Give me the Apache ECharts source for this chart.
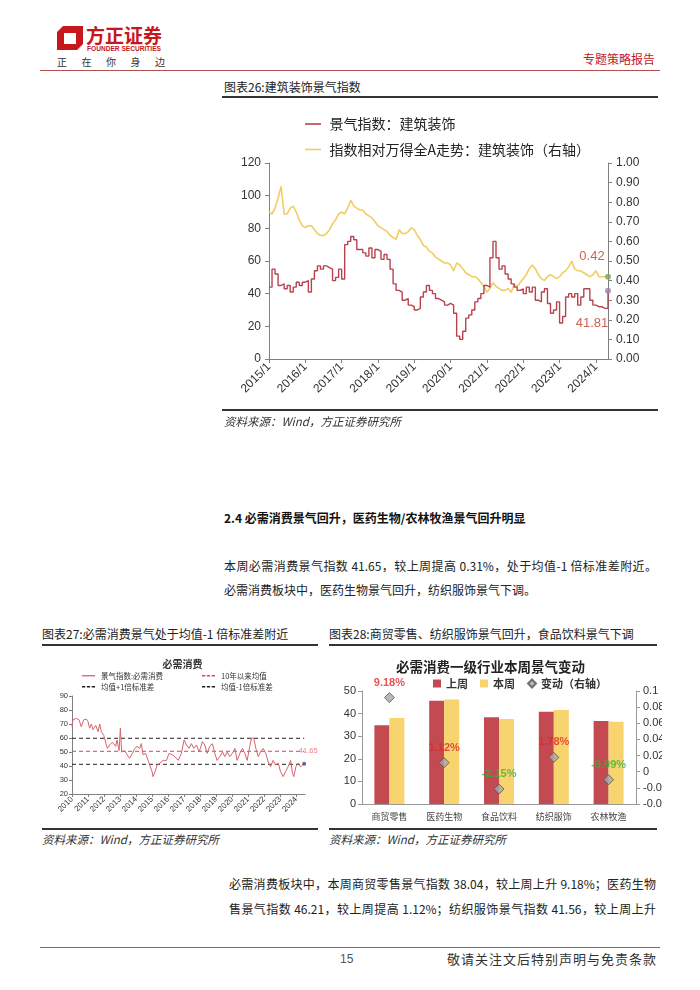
<!DOCTYPE html>
<html><head><meta charset="utf-8">
<script src="https://cdn.jsdelivr.net/npm/echarts/dist/echarts.min.js"></script>
<style>
html,body{margin:0;padding:0}
body{width:700px;height:990px;position:relative;background:#fff;overflow:hidden;font-family:"Noto Sans CJK SC","Liberation Sans",sans-serif;color:#222}
.t{position:absolute;white-space:nowrap;line-height:1}
.j{text-align:justify;text-align-last:justify}
.hl{position:absolute;background:#333}
.src{font-style:italic;font-size:11.5px;color:#333}
.cap{font-size:12px;color:#222}
</style></head><body>

<!-- header -->
<svg class="t" style="left:56px;top:24px" width="28" height="27" viewBox="0 0 28 27">
  <path d="M7 2 L27 2 L27 20 L21 26 L1 26 L1 8 Z M8 9 L8 20 L20 20 L20 9 Z" fill="#c8161d" fill-rule="evenodd"/>
</svg>
<div class="t" style="left:86px;top:25px;font-size:19px;font-weight:bold;color:#c8161d">方正证券</div>
<div class="t" style="left:87px;top:46px;font-size:6.6px;font-weight:bold;color:#c8161d;font-family:'Liberation Sans',sans-serif">FOUNDER SECURITIES</div>
<div class="t" style="left:57px;top:57px;font-size:10px;color:#333;letter-spacing:14.5px">正在你身边</div>
<div class="t" style="left:583px;top:53px;font-size:12px;color:#c8161d">专题策略报告</div>
<div class="hl" style="left:40px;top:70px;width:620px;height:1.2px;background:#b0504f"></div>

<!-- chart 26 -->
<div class="t cap" style="left:224px;top:81px">图表26:建筑装饰景气指数</div>
<div class="hl" style="left:222px;top:96px;width:436px;height:1.6px"></div>
<div id="c26" style="position:absolute;left:220px;top:100px;width:440px;height:310px"></div>
<div class="hl" style="left:222px;top:409px;width:436px;height:1.6px"></div>
<div class="t src" style="left:224px;top:416px">资料来源：Wind，方正证券研究所</div>

<!-- text -->
<div class="t" style="left:224px;top:512px;font-size:12px;font-weight:bold;color:#111">2.4 必需消费景气回升，医药生物/农林牧渔景气回升明显</div>
<div class="t j" style="left:224px;top:560px;width:433px;font-size:12px;color:#222">本周必需消费景气指数 41.65，较上周提高 0.31%，处于均值-1 倍标准差附近。</div>
<div class="t" style="left:224px;top:584px;font-size:12px;color:#222">必需消费板块中，医药生物景气回升，纺织服饰景气下调。</div>

<!-- chart 27 -->
<div class="t cap" style="left:42px;top:628px">图表27:必需消费景气处于均值-1 倍标准差附近</div>
<div class="hl" style="left:42px;top:644px;width:276px;height:1.6px"></div>
<div id="c27" style="position:absolute;left:40px;top:648px;width:285px;height:180px"></div>
<div class="hl" style="left:42px;top:828px;width:276px;height:1.6px"></div>
<div class="t src" style="left:42px;top:834px">资料来源：Wind，方正证券研究所</div>

<!-- chart 28 -->
<div class="t cap" style="left:329px;top:628px">图表28:商贸零售、纺织服饰景气回升，食品饮料景气下调</div>
<div class="hl" style="left:329px;top:644px;width:328px;height:1.6px"></div>
<div id="c28" style="position:absolute;left:325px;top:648px;width:337px;height:180px"></div>
<div class="hl" style="left:329px;top:828px;width:328px;height:1.6px"></div>
<div class="t src" style="left:329px;top:834px">资料来源：Wind，方正证券研究所</div>

<!-- bottom text -->
<div class="t j" style="left:229px;top:878px;width:427px;font-size:12px;color:#222">必需消费板块中，本周商贸零售景气指数 38.04，较上周上升 9.18%；医药生物</div>
<div class="t j" style="left:229px;top:903px;width:427px;font-size:12px;color:#222">售景气指数 46.21，较上周提高 1.12%；纺织服饰景气指数 41.56，较上周上升</div>

<!-- footer -->
<div class="hl" style="left:40px;top:947px;width:620px;height:1.2px;background:#b0504f"></div>
<div class="t" style="left:340px;top:953px;font-size:12px;color:#555;font-family:'Liberation Sans',sans-serif">15</div>
<div class="t" style="left:447px;top:952px;font-size:13px;color:#333;letter-spacing:1px">敬请关注文后特别声明与免责条款</div>

<script>
// ---------- Chart 26 data (monthly, 2015/1 - 2024/5) ----------
const c26Index = [
  44,55,52,45,46,43,45,41,44,47,45,47,
  48,41,49,54,57,55,57,56,55,48,50,55,
  49,70,72,75,73,67,67,65,63,68,62,67,
  66,61,64,61,55,46,42,41,36,37,33,32,
  30,31,38,41,45,42,40,37,36,35,33,34,
  33,28,14,12,17,25,27,30,35,37,40,45,
  44,62,72,62,55,57,52,49,46,44,42,43,
  40,44,41,44,36,35,41,43,34,28,30,35,
  22,26,38,40,38,40,33,38,43,43,36,33,
  32,32,31,31,41.81
];
const c26Rel = [
  0.75,0.74,0.77,0.82,0.88,0.74,0.74,0.77,0.78,0.75,0.71,0.68,
  0.67,0.68,0.68,0.66,0.64,0.63,0.63,0.64,0.66,0.69,0.71,0.74,
  0.75,0.74,0.77,0.81,0.78,0.77,0.76,0.76,0.74,0.73,0.72,0.70,
  0.68,0.67,0.66,0.65,0.63,0.62,0.61,0.66,0.64,0.64,0.65,0.67,
  0.66,0.63,0.61,0.58,0.57,0.55,0.54,0.52,0.51,0.50,0.49,0.49,
  0.48,0.45,0.49,0.48,0.46,0.44,0.43,0.42,0.42,0.41,0.39,0.37,
  0.34,0.36,0.39,0.37,0.36,0.35,0.35,0.36,0.34,0.38,0.37,0.39,
  0.41,0.43,0.46,0.48,0.46,0.43,0.41,0.40,0.42,0.43,0.42,0.41,
  0.42,0.44,0.45,0.47,0.50,0.46,0.45,0.45,0.44,0.43,0.42,0.43,
  0.45,0.42,0.42,0.42,0.42
];
const c26Months = [];
for (let y = 2015; y <= 2024; y++) for (let m = 1; m <= 12; m++) if (c26Months.length < c26Index.length) c26Months.push(y + '/' + m);
const c26Names = ['景气指数：建筑装饰', '指数相对万得全A走势：建筑装饰（右轴）'];

// ---------- Chart 27 data ----------
const c27T = [2010.00,2010.06,2010.27,2010.44,2010.58,2010.73,2010.90,2011.00,2011.10,2011.21,2011.31,2011.48,2011.63,2011.73,2011.83,2011.98,
  2012.10,2012.21,2012.35,2012.52,2012.73,2012.81,2012.94,2013.02,2013.10,2013.29,2013.44,2013.60,2013.77,2013.92,
  2014.06,2014.23,2014.33,2014.44,2014.60,2014.75,2014.85,2015.00,2015.06,2015.19,2015.31,2015.48,2015.69,2015.90,
  2016.06,2016.27,2016.42,2016.63,2016.83,2017.00,2017.15,2017.31,2017.46,2017.60,2017.77,2017.94,
  2018.15,2018.29,2018.44,2018.60,2018.77,2018.92,2019.06,2019.23,2019.40,2019.54,2019.69,2019.85,
  2020.02,2020.17,2020.31,2020.48,2020.65,2020.79,2020.94,2021.10,2021.21,2021.35,2021.48,2021.63,2021.77,2021.94,
  2022.10,2022.25,2022.40,2022.56,2022.71,2022.88,2023.02,2023.19,2023.33,2023.50,2023.65,2023.77,2023.85,2023.98,
  2024.13,2024.27,2024.40,2024.50];
const c27V = [68,73,74,73,68,73,73.5,71.7,67,70,66,69,64.5,70,64.5,62,
  57,52.6,55,57,54,58.6,51,67,50,51,48,45.5,49,52.6,
  54,52.6,56,48,49,44,40.7,36,32.4,36,40.7,42,44,44,
  49,48,46.7,44,49,58.6,55,52.6,56,52.6,55,50,
  57.4,55,49,54,56,49,44,46.7,50,46.7,50,46.7,
  49,52.6,44,49,52.6,49,44,54,60,60,52.6,46.7,50,52.6,
  49,43,39.5,44,40.7,42,36,32.4,36,39.5,44,34.8,32.4,39.5,
  42,39.5,40.7,41.65];
const c27Mean = 50.5, c27Up = 59.8, c27Dn = 41.2;
const c27Years = [2010,2024.55];
const c27Names = ['景气指数:必需消费', '10年以来均值', '均值+1倍标准差', '均值-1倍标准差'];

// ---------- Chart 28 data ----------
const c28Cats = ['商贸零售','医药生物','食品饮料','纺织服饰','农林牧渔'];
const c28Prev = [34.84, 45.70, 38.43, 40.83, 36.76];
const c28Curr = [38.04, 46.21, 37.60, 41.56, 36.40];
const c28Chg  = [0.0918, 0.0112, -0.0215, 0.0178, -0.0099];
const c28Names = ['上周', '本周', '变动（右轴）'];

const RED26 = '#b8434f', YEL26 = '#f2cd62';
const SOLID_ICON = 'path://M0,0h20v2h-20z';
const DASH_ICON = 'path://M0,0h5v2h-5z M7.5,0h5v2h-5z M15,0h5v2h-5z';
const axisBase = {
  axisLine: { show: true, lineStyle: { color: '#808080', width: 1 } },
  axisTick: { show: true, lineStyle: { color: '#808080' }, length: 4 },
  splitLine: { show: false }
};

// ================= Chart 26 =================
const ch26 = echarts.init(document.getElementById('c26'), null, { renderer: 'canvas' });
const last26 = c26Index.length - 1;
ch26.setOption({
  animation: false,
  textStyle: { fontFamily: 'Liberation Sans, Noto Sans CJK SC, sans-serif' },
  legend: {
    orient: 'vertical', left: 80, top: 12, itemWidth: 23, itemHeight: 1.6, itemGap: 11.5,
    data: c26Names.map((n) => ({ name: n, icon: SOLID_ICON })),
    textStyle: { fontSize: 14, color: '#222', fontFamily: 'Noto Sans CJK SC' }
  },
  grid: { left: 49, right: 52, top: 63, bottom: 51, containLabel: false, outerBoundsMode: 'none' },
  xAxis: {
    type: 'category', data: c26Months, boundaryGap: false,
    ...axisBase,
    axisTick: { show: true, lineStyle: { color: '#808080' }, length: 4, interval: (i) => i % 12 === 0 },
    axisLabel: { interval: (i) => i % 12 === 0, rotate: 45, fontSize: 12, color: '#333', margin: 6 }
  },
  yAxis: [
    { type: 'value', min: 0, max: 120, interval: 20, ...axisBase,
      axisLabel: { fontSize: 12, color: '#333', margin: 8 } },
    { type: 'value', min: 0, max: 1, interval: 0.1, ...axisBase,
      axisLabel: { fontSize: 12, color: '#333', margin: 8, formatter: (v) => v.toFixed(2) } }
  ],
  series: [
    { name: c26Names[0], type: 'line', yAxisIndex: 0, step: 'end', symbol: 'none',
      lineStyle: { color: RED26, width: 1.4 }, itemStyle: { color: RED26 }, data: c26Index, z: 3 },
    { name: c26Names[1], type: 'line', yAxisIndex: 1, symbol: 'none',
      lineStyle: { color: YEL26, width: 1.6 }, itemStyle: { color: YEL26 }, data: c26Rel, z: 2 },
    { name: 'end1', type: 'scatter', yAxisIndex: 0, symbolSize: 6, z: 5,
      itemStyle: { color: '#9a7fb8' },
      label: { show: true, position: 'bottom', offset: [-16, 18], fontSize: 13, color: '#c0392b',
        formatter: (p) => p.value[1].toFixed(2) },
      data: [[c26Months[last26], c26Index[last26]]] },
    { name: 'end2', type: 'scatter', yAxisIndex: 1, symbolSize: 6, z: 5,
      itemStyle: { color: '#7aa85a' },
      label: { show: true, position: 'top', offset: [-16, -6], fontSize: 13, color: '#c0392b',
        formatter: (p) => p.value[1].toFixed(2) },
      data: [[c26Months[last26], c26Rel[last26]]] }
  ]
});

// ================= Chart 27 =================
const ch27 = echarts.init(document.getElementById('c27'));
const c27Main = c27T.map((t, i) => [t, c27V[i]]);
const lg27 = (name, icon, left, top) => ({
  data: [{ name, icon }], left, top, itemWidth: 15, itemHeight: 1.3, padding: 0,
  textStyle: { fontSize: 7.5, color: '#333', fontFamily: 'Noto Sans CJK SC' }
});
const lastT = c27T[c27T.length - 1], lastV = c27V[c27V.length - 1];
ch27.setOption({
  animation: false,
  textStyle: { fontFamily: 'Liberation Sans, Noto Sans CJK SC, sans-serif' },
  title: { text: '必需消费', left: 'center', top: 6,
    textStyle: { fontSize: 10, fontWeight: 'bold', color: '#333', fontFamily: 'Noto Sans CJK SC' } },
  legend: [
    lg27(c27Names[0], SOLID_ICON, 42, 24), lg27(c27Names[1], DASH_ICON, 162, 24),
    lg27(c27Names[2], DASH_ICON, 42, 35), lg27(c27Names[3], DASH_ICON, 162, 35)
  ],
  grid: { left: 32, right: 20, top: 48, bottom: 34, outerBoundsMode: 'none' },
  xAxis: {
    type: 'value', min: c27Years[0], max: c27Years[1], interval: 1, ...axisBase,
    axisTick: { show: true, length: 3, lineStyle: { color: '#808080' } },
    axisLabel: { rotate: 45, fontSize: 8, color: '#333', margin: 4, showMaxLabel: false,
      formatter: (v) => Number.isInteger(v) ? String(v) : '' }
  },
  yAxis: {
    type: 'value', min: 20, max: 90, interval: 10, ...axisBase,
    axisTick: { show: true, length: 3, lineStyle: { color: '#808080' } },
    axisLabel: { fontSize: 7.5, color: '#333', margin: 4 }
  },
  series: [
    { name: c27Names[0], type: 'line', symbol: 'none', data: c27Main, z: 3,
      lineStyle: { color: '#d4636b', width: 1 }, itemStyle: { color: '#d4636b' } },
    { name: c27Names[1], type: 'line', symbol: 'none', z: 2,
      data: [[c27Years[0], c27Mean], [lastT, c27Mean]],
      lineStyle: { color: '#e04848', width: 1, type: [4, 3] }, itemStyle: { color: '#e04848' } },
    { name: c27Names[2], type: 'line', symbol: 'none', z: 2,
      data: [[c27Years[0], c27Up], [lastT, c27Up]],
      lineStyle: { color: '#222', width: 1, type: [4, 3] }, itemStyle: { color: '#222' } },
    { name: c27Names[3], type: 'line', symbol: 'none', z: 2,
      data: [[c27Years[0], c27Dn], [lastT, c27Dn]],
      lineStyle: { color: '#222', width: 1, type: [4, 3] }, itemStyle: { color: '#222' } },
    { name: 'end27', type: 'scatter', symbolSize: 4, z: 5, itemStyle: { color: '#3b4a7a' },
      label: { show: true, position: 'top', offset: [4, -2], fontSize: 7.5, color: '#e06070',
        formatter: (p) => p.value[1].toFixed(2) },
      data: [[lastT, lastV]] }
  ]
});

// ================= Chart 28 =================
const ch28 = echarts.init(document.getElementById('c28'));
ch28.setOption({
  animation: false,
  textStyle: { fontFamily: 'Liberation Sans, Noto Sans CJK SC, sans-serif' },
  title: { text: '必需消费一级行业本周景气变动', left: 66, top: 7,
    textStyle: { fontSize: 13.5, fontWeight: 'bold', color: '#222', fontFamily: 'Noto Sans CJK SC' } },
  legend: {
    left: 103, top: 25, itemWidth: 8, itemHeight: 8, itemGap: 12,
    data: [{ name: c28Names[0], icon: 'rect' }, { name: c28Names[1], icon: 'rect' }, { name: c28Names[2], icon: 'diamond' }],
    textStyle: { fontSize: 11, fontWeight: 'bold', color: '#333', fontFamily: 'Noto Sans CJK SC' }
  },
  grid: { left: 37, right: 26, top: 43, bottom: 24, outerBoundsMode: 'none' },
  xAxis: {
    type: 'category', data: c28Cats,
    axisLine: { show: true, lineStyle: { color: '#999' } },
    axisTick: { show: false },
    axisLabel: { fontSize: 9, color: '#444', margin: 8, fontFamily: 'Noto Sans CJK SC' }
  },
  yAxis: [
    { type: 'value', min: 0, max: 50, interval: 10, ...axisBase,
      axisLine: { show: true, lineStyle: { color: '#999' } },
      axisTick: { show: true, length: 4, lineStyle: { color: '#999' } },
      axisLabel: { fontSize: 11, color: '#333', margin: 6 } },
    { type: 'value', min: -0.04, max: 0.1, interval: 0.02, ...axisBase,
      axisLine: { show: true, lineStyle: { color: '#999' } },
      axisTick: { show: true, length: 4, lineStyle: { color: '#999' } },
      axisLabel: { fontSize: 11, color: '#333', margin: 7,
        formatter: (v) => String(Math.round(v * 100) / 100) } }
  ],
  series: [
    { name: c28Names[0], type: 'bar', data: c28Prev, barWidth: 15, barGap: '0%',
      itemStyle: { color: '#c24a50' } },
    { name: c28Names[1], type: 'bar', data: c28Curr, barWidth: 15,
      itemStyle: { color: '#f8d46e' } },
    { name: c28Names[2], type: 'scatter', yAxisIndex: 1, symbol: 'diamond', symbolSize: 10, z: 5,
      itemStyle: { color: '#a8a8a8', borderColor: '#555', borderWidth: 1 },
      data: c28Chg.map((v) => ({
        value: v,
        label: { show: true, position: 'top', distance: 4, fontSize: 11, fontWeight: 'bold',
          color: v >= 0 ? '#e02828' : '#38b03c',
          formatter: (p) => (p.value * 100).toFixed(2) + '%' }
      })) }
  ]
});
</script>
</body></html>
